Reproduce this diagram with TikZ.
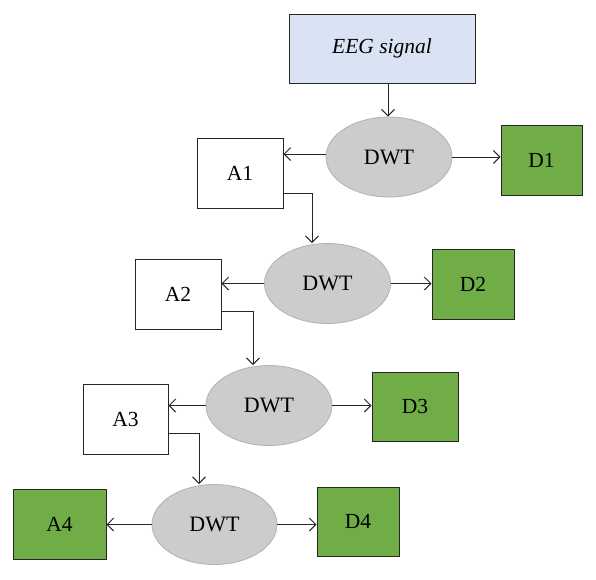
\documentclass[tikz,border=0pt]{standalone}
\usepackage{fontspec}
\setmainfont{Liberation Serif}
\usetikzlibrary{arrows.meta,shapes.geometric}
\definecolor{eegblue}{RGB}{218,227,243}
\definecolor{dgreen}{RGB}{112,173,71}
\definecolor{dwtgray}{RGB}{204,204,204}

\begin{document}
\begin{tikzpicture}[x=1pt,y=-1pt,
    box/.style={draw=black!85,line width=1pt,minimum width=84pt,minimum height=70pt,
      inner sep=0pt,font=\fontsize{21.5}{24}\selectfont},
    detail/.style={box,fill=dgreen},
    dwt/.style={ellipse,draw=black!30,fill=dwtgray,line width=0.8pt,minimum width=126pt,
      minimum height=80pt,inner sep=0pt,font=\fontsize{22}{24}\selectfont},
    link/.style={line width=1pt,black!85,-{Straight Barb[length=6.5pt,width=13pt]}}]
      \useasboundingbox (0,0) rectangle (596,579);
      \node[box,fill=eegblue,minimum width=186pt,minimum height=69pt] at (382,48.5) (eeg) {\itshape EEG signal};
      \node[dwt] at (389,157) (dwt1) {DWT};
      \node[dwt] at (327.5,283.5) (dwt2) {DWT};
      \node[dwt] at (269,405.5) (dwt3) {DWT};
      \node[dwt,minimum width=125pt] at (214.5,524.5) (dwt4) {DWT};
      \node[box,minimum width=86pt] at (240,173) (a1) {A1};
      \node[box,minimum width=86pt] at (178,294) (a2) {A2};
      \node[box,minimum width=85pt] at (125.5,419) (a3) {A3};
      \node[detail,minimum width=93pt] at (59.5,524) (a4) {A4};
      \node[detail,minimum width=81pt] at (541.5,160) (d1) {D1};
      \node[detail,minimum width=82pt] at (473,284) (d2) {D2};
      \node[detail,minimum width=86pt,minimum height=69pt] at (415,406.5) (d3) {D3};
      \node[detail,minimum width=82pt,minimum height=69pt] at (358,521.5) (d4) {D4};
      % EEG into first level
      \draw[link] (eeg.south -| 388,0) -- (dwt1.north -| 388,0);
      % approximation / detail branches
      \draw[link] ([yshift=3pt]dwt1.west) -- ([yshift=3pt]dwt1.west -| a1.east);
      \draw[link] (dwt1.east) -- (dwt1.east -| d1.west);
      \draw[link] (dwt2.west) -- (dwt2.west -| a2.east);
      \draw[link] (dwt2.east) -- (dwt2.east -| d2.west);
      \draw[link] (dwt3.west) -- (dwt3.west -| a3.east);
      \draw[link] (dwt3.east) -- (dwt3.east -| d3.west);
      \draw[link] (dwt4.west) -- (dwt4.west -| a4.east);
      \draw[link] (dwt4.east) -- (dwt4.east -| d4.west);
      % approximations fed to next level
      \draw[link] ([yshift=15pt]a1.south east) -| ([xshift=-15.5pt]dwt2.north);
      \draw[link] ([yshift=18pt]a2.south east) -| ([xshift=-16pt]dwt3.north);
      \draw[link] ([yshift=21pt]a3.south east) -| ([xshift=-15.5pt]dwt4.north);
    \end{tikzpicture}
\end{document}
